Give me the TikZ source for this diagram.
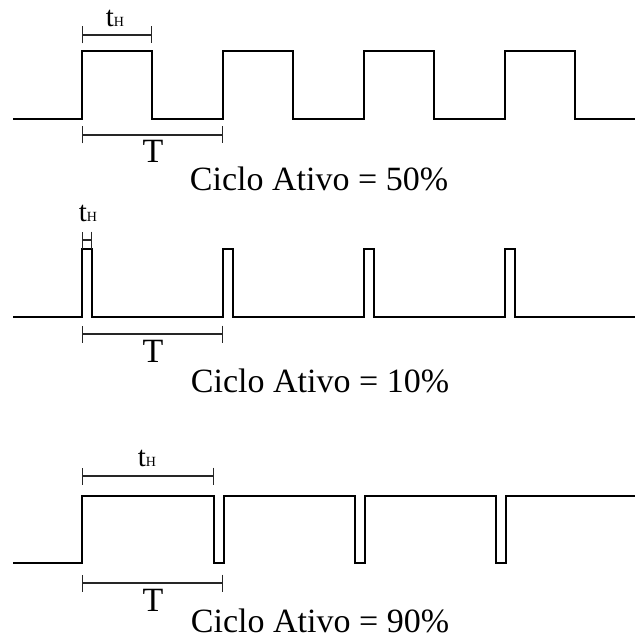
\documentclass[tikz,border=0pt]{standalone}
\usepackage{fontspec}
\setmainfont{Liberation Serif}
\usetikzlibrary{arrows.meta,positioning}

\begin{document}
\begin{tikzpicture}[x=1pt,y=-1pt,
	wave/.style={line width=2.8pt,line join=miter},
	span/.style={line width=1.3pt,black!85,{Bar[width=17pt]}-{Bar[width=17pt]}},
	caption/.style={anchor=base,inner sep=0pt,font=\fontsize{34}{40}\selectfont},
	tlabel/.style={anchor=base,inner sep=0pt,font=\fontsize{34}{40}\selectfont},
	thlabel/.style={anchor=base,inner sep=0pt,font=\fontsize{29}{32}\selectfont}]
	\useasboundingbox (0,0) rectangle (635,644);

	%% Ciclo ativo 50%
	\draw[wave] (13,119) foreach \k in {0,...,3} {
		-- ({82+141*\k},119) -- ({82+141*\k},51) -- ({152+141*\k},51) -- ({152+141*\k},119)
	} -- (635,119);
	\coordinate (tha) at (82,35);
	\coordinate (thb) at (152,35);
	\coordinate (ta) at (82,135);
	\coordinate (tb) at (223,135);
	\draw[span] (tha) -- (thb);
	\draw[span] (ta) -- (tb);
	\node[thlabel] (th) at (115,27) {t{\fontsize{14}{14}\selectfont H}};
	\node[tlabel] (t) at (153,163) {T};
	\node[caption] (ca) at (319,191) {Ciclo Ativo = 50\%};

	%% Ciclo ativo 10%
	\draw[wave] (13,317) foreach \k in {0,...,3} {
		-- ({82+141*\k},317) -- ({82+141*\k},249) -- ({92+141*\k},249) -- ({92+141*\k},317)
	} -- (635,317);
	\coordinate (thc) at (82,240);
	\coordinate (thd) at (92,240);
	\coordinate (tc) at (82,334);
	\coordinate (td) at (223,334);
	\draw[span] (thc) -- (thd);
	\draw[span] (tc) -- (td);
	\node[thlabel] (th2) at (88,222) {t{\fontsize{14}{14}\selectfont H}};
	\node[tlabel] (t2) at (153,362) {T};
	\node[caption] (cb) at (320,392) {Ciclo Ativo = 10\%};

	%% Ciclo ativo 90%
	\draw[wave] (13,563) -- (82,563) -- (82,496) foreach \k in {0,...,2} {
		-- ({214+141*\k},496) -- ({214+141*\k},563) -- ({224+141*\k},563) -- ({224+141*\k},496)
	} -- (635,496);
	\coordinate (the) at (82,476);
	\coordinate (thf) at (214,476);
	\coordinate (te) at (82,583);
	\coordinate (tf) at (223,583);
	\draw[span] (the) -- (thf);
	\draw[span] (te) -- (tf);
	\node[thlabel] (th3) at (147,466) {t{\fontsize{14}{14}\selectfont H}};
	\node[tlabel] (t3) at (153,611) {T};
	\node[caption] (cc) at (320,632) {Ciclo Ativo = 90\%};
\end{tikzpicture}
\end{document}
